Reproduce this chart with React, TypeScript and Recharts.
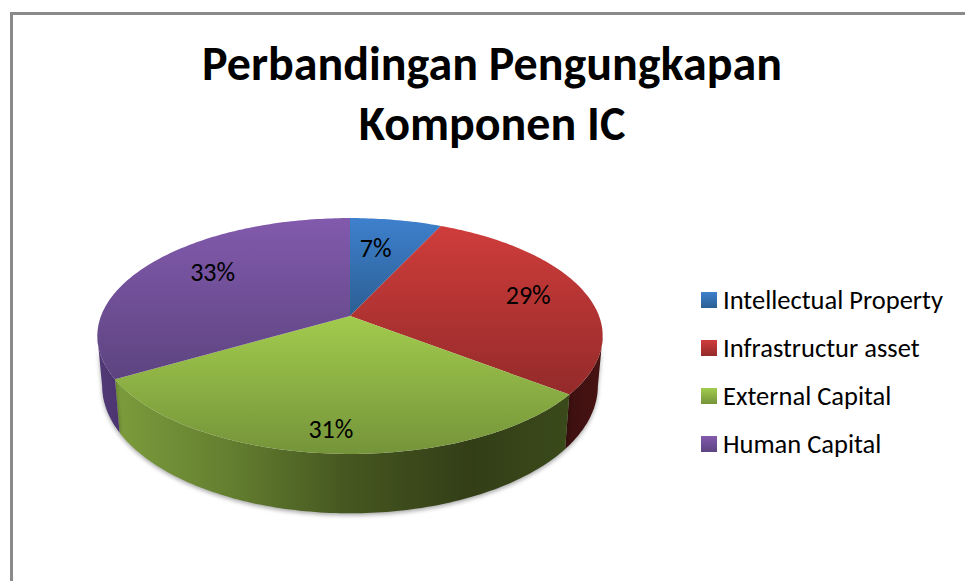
import React from 'react'
import { PieChart, Pie, Cell, Legend } from 'recharts'

const categories = ['Intellectual Property', 'Infrastructur asset', 'External Capital', 'Human Capital']
const values = [6.9, 28.6, 31.0, 33.4]
const titleLines = ['Perbandingan Pengungkapan', 'Komponen IC']

const topColors = [
  ['#3e80cd', '#2b5f93'],
  ['#cf3d3b', '#942a2a'],
  ['#a2cb4d', '#75943a'],
  ['#825aad', '#5d4480'],
]
// label nudges, the excel labels don't sit on one radius
const labelNudge = [
  [-10, 7],
  [2, -1],
  [-5, 15],
  [15, -4],
]

const data = categories.map((name, i) => ({ name, value: values[i], idx: i }))

// perspective of the tilted disc
const TILT = 0.1695
const K_TOP = 0.46
const R_BOTTOM = 0.981
const K_BOTTOM = 0.5076
const BOTTOM_DROP = 48
// where the rim turns out of sight, in recharts angles
const RIM_START = -9.8
const RIM_END = -170.2

function project(angle: number, r: number, R: number, k: number) {
  const t = ((90 - angle) * Math.PI) / 180
  const u = Math.sin(t) * r
  const v = -Math.cos(t) * r
  const d = 1 - TILT * v
  return [(R * u) / d, (R * k * v) / d]
}

function arcPoints(a0: number, a1: number, fn: (a: number) => number[]) {
  const n = Math.max(2, Math.ceil(Math.abs(a1 - a0)))
  const pts: number[][] = []
  for (let i = 0; i <= n; i++) pts.push(fn(a0 + ((a1 - a0) * i) / n))
  return pts
}

const toPath = (pts: number[][]) => 'M' + pts.map((p) => p[0].toFixed(1) + ',' + p[1].toFixed(1)).join('L') + 'Z'

function TopSlice(props: any) {
  const { cx, cy, outerRadius, startAngle, endAngle, idx } = props
  const arc = arcPoints(startAngle, endAngle, (a) => {
    const p = project(a, 1, outerRadius, K_TOP)
    return [cx + p[0], cy + p[1]]
  })
  return <path d={toPath([[cx, cy], ...arc])} fill={`url(#top${idx})`} />
}

function WallSlice(props: any) {
  const { cx, cy, outerRadius, startAngle, endAngle, idx } = props
  const a0 = Math.min(startAngle, RIM_START)
  const a1 = Math.max(endAngle, RIM_END)
  if (a0 <= a1) return null
  const upper = arcPoints(a0, a1, (a) => {
    const p = project(a, 1, outerRadius, K_TOP)
    return [cx + p[0], cy + p[1]]
  })
  const lower = arcPoints(a1, a0, (a) => {
    const p = project(a, 1, outerRadius * R_BOTTOM, K_BOTTOM)
    return [cx + p[0], cy + BOTTOM_DROP + p[1]]
  })
  return (
    <path
      d={toPath([...upper, ...lower])}
      fill={`url(#wall${idx})`}
      style={{ filter: 'drop-shadow(0px 2px 2px rgba(0,0,0,0.35))' }}
    />
  )
}

function renderLabel(props: any) {
  const { cx, cy, outerRadius, midAngle, percent, index } = props
  const p = project(midAngle, 0.75, outerRadius, K_TOP)
  const nudge = labelNudge[index]
  return (
    <text
      x={cx + p[0] + nudge[0]}
      y={cy + p[1] + nudge[1]}
      textAnchor="middle"
      dominantBaseline="central"
      fontSize={26}
      fontFamily="Carlito, Lato, sans-serif"
      fill="#000"
    >
      {Math.round(percent * 100)}%
    </text>
  )
}

function LegendList({ payload }: any) {
  // both pies report here, keep one row per category
  const rows = categories.filter((c) => (payload || []).some((item: any) => item.value === c))
  return (
    <div style={{ fontFamily: 'Carlito, Lato, sans-serif', fontSize: 26.5, color: '#000' }}>
      {rows.map((name) => {
        const i = categories.indexOf(name)
        return (
          <div key={name} style={{ display: 'flex', alignItems: 'center', height: 48 }}>
            <span
              style={{
                width: 16,
                height: 16,
                marginRight: 6,
                background: `linear-gradient(${topColors[i][0]}, ${topColors[i][1]})`,
              }}
            />
            <span>{name}</span>
          </div>
        )
      })}
    </div>
  )
}

export default function App() {
  return (
    <div style={{ position: 'absolute', left: 0, top: 0, width: 965, height: 581, overflow: 'hidden', background: '#fff' }}>
      <div style={{ position: 'absolute', left: 10, top: 12, right: -10, bottom: -10, border: '3px solid #8a8a8a' }} />
      <PieChart width={965} height={581} margin={{ top: 0, right: 0, bottom: 0, left: 0 }} style={{ position: 'absolute', left: 0, top: 0 }}>
        <defs>
          {topColors.map((c, i) => (
            <linearGradient key={i} id={`top${i}`} x1="0" y1="0" x2="0" y2="1">
              <stop offset="0%" stopColor={c[0]} />
              <stop offset="100%" stopColor={c[1]} />
            </linearGradient>
          ))}
          <linearGradient id="wall0" x1="0" y1="0" x2="1" y2="0">
            <stop offset="0%" stopColor="#2b5f93" />
            <stop offset="100%" stopColor="#1d4068" />
          </linearGradient>
          <linearGradient id="wall1" x1="0" y1="0" x2="1" y2="0">
            <stop offset="0%" stopColor="#3c1010" />
            <stop offset="100%" stopColor="#481212" />
          </linearGradient>
          <linearGradient id="wall2" x1="0" y1="0" x2="1" y2="0">
            <stop offset="0%" stopColor="#7c9c3c" />
            <stop offset="25%" stopColor="#647f30" />
            <stop offset="50%" stopColor="#465820" />
            <stop offset="78%" stopColor="#333e17" />
            <stop offset="100%" stopColor="#3a4a1a" />
          </linearGradient>
          <linearGradient id="wall3" x1="0" y1="0" x2="1" y2="0">
            <stop offset="0%" stopColor="#523a76" />
            <stop offset="100%" stopColor="#4c3470" />
          </linearGradient>
        </defs>
        <text textAnchor="middle" fontFamily="Carlito, Lato, sans-serif" fontWeight={700} fontSize={48} fill="#000">
          <tspan x={492} y={80}>{titleLines[0]}</tspan>
          <tspan x={492} y={140}>{titleLines[1]}</tspan>
        </text>
        <Pie
          data={data}
          dataKey="value"
          nameKey="name"
          cx={350}
          cy={316}
          outerRadius={249}
          startAngle={90}
          endAngle={-270}
          stroke="none"
          legendType="none"
          isAnimationActive={false}
          shape={WallSlice}
        />
        <Pie
          data={data}
          dataKey="value"
          nameKey="name"
          cx={350}
          cy={316}
          outerRadius={249}
          startAngle={90}
          endAngle={-270}
          stroke="none"
          isAnimationActive={false}
          shape={TopSlice}
          label={renderLabel}
          labelLine={false}
        >
          {data.map((d, i) => (
            <Cell key={d.name} fill={topColors[i][0]} />
          ))}
        </Pie>
        <Legend
          content={<LegendList />}
          itemSorter={null}
          wrapperStyle={{ position: 'absolute', left: 701, top: 276, width: 260, bottom: 'auto' }}
        />
      </PieChart>
    </div>
  )
}
